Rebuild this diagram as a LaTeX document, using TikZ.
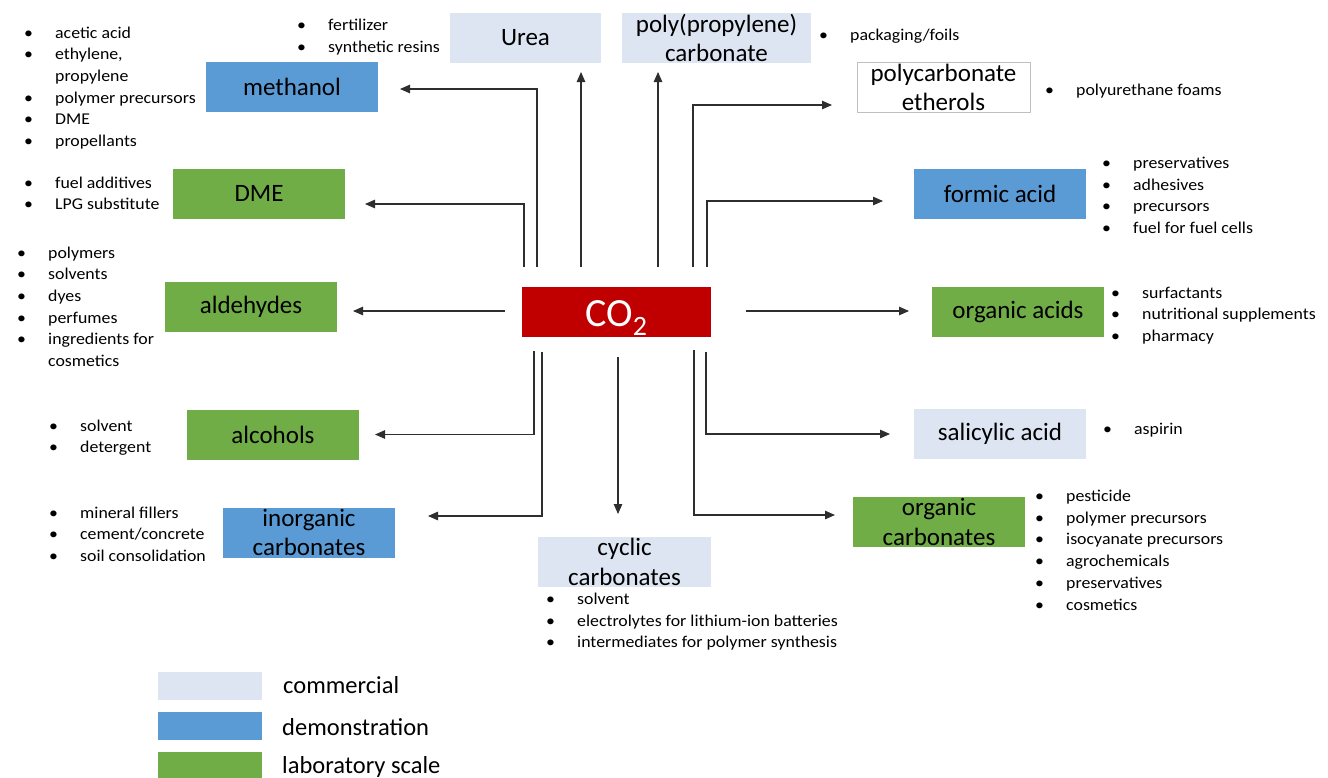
\documentclass[tikz,border=0pt]{standalone}
\usepackage{fontspec}
\setmainfont{Carlito}
\newfontfamily\bulfam[FakeStretch=1.08]{Carlito}
\usetikzlibrary{arrows.meta}
\definecolor{comm}{HTML}{DDE5F2}
\definecolor{demo}{HTML}{5B9BD5}
\definecolor{lab}{HTML}{70AD47}
\definecolor{cored}{HTML}{C00000}
\definecolor{linec}{HTML}{2E2E2E}
\newcommand\bulfont{\bulfam\fontsize{16.5}{21.7}\selectfont}
\newcommand\boxfont{\fontsize{25}{29.5}\selectfont}
\newcommand\blist[4]{\node[anchor=base west, inner sep=0, font=\bulfont] (#1) at (#2-31,#3) {\begin{tabular}[t]{@{}p{31pt}@{}l@{}}#4\end{tabular}};}
\newcommand\bu{\textbullet &}
\tikzset{
  pbox/.style={minimum height=50pt, inner sep=0, outer sep=0, align=center, font=\boxfont, text=black},
  pcomm/.style={pbox, fill=comm},
  pdemo/.style={pbox, fill=demo},
  plab/.style={pbox, fill=lab},
  arr/.style={draw=linec, line width=1.1pt, -{Triangle[length=10pt,width=8.5pt]}},
  legbox/.style={minimum width=104pt, minimum height=28pt, inner sep=0},
  legtext/.style={anchor=base west, inner sep=0, font=\fontsize{24.5}{28}\selectfont}
}
\begin{document}
\begin{tikzpicture}[x=1pt,y=-1pt]
\useasboundingbox (0,0) rectangle (1328,777);
% boxes
\node[pcomm, minimum width=151pt] (urea) at (525.5,38) {Urea};
\node[pcomm, minimum width=189pt] (ppc) at (716.5,38) {poly(propylene)\\carbonate};
\node[pbox, minimum width=173pt, draw=black!25, line width=1pt, fill=white] (pce) at (943.5,87.5) {polycarbonate\\etherols};
\node[pdemo, minimum width=172pt] (meth) at (292,87) {methanol};
\node[plab, minimum width=172pt] (dme) at (259,193.5) {DME};
\node[pdemo, minimum width=172pt] (formic) at (1000,193.5) {formic acid};
\node[plab, minimum width=172pt] (ald) at (251,306.5) {aldehydes};
\node[plab, minimum width=172pt] (alc) at (273,434.5) {alcohols};
\node[pdemo, minimum width=172pt] (inorg) at (309,532.5) {inorganic\\carbonates};
\node[pbox, minimum width=189pt, fill=cored, text=white, font=\fontsize{40}{44}\selectfont] (co2) at (616.5,312) {\raisebox{0pt}[28pt][0pt]{CO\textsubscript{2}}};
\node[pcomm, minimum width=173pt] (cyc) at (624.5,562) {cyclic\\carbonates};
\node[plab, minimum width=172pt] (orgac) at (1018,312) {organic acids};
\node[pcomm, minimum width=172pt] (sal) at (1000,434) {salicylic acid};
\node[plab, minimum width=172pt] (orgcarb) at (939,522) {organic\\carbonates};
% connector coordinates
\coordinate (sMeth) at (537,267); \coordinate (eMeth) at (400,89);
\coordinate (sDme) at (524,267); \coordinate (eDme) at (365,204);
\coordinate (sUrea) at (581,267); \coordinate (eUrea) at (581,72);
\coordinate (sPpc) at (658,267); \coordinate (ePpc) at (658,72);
\coordinate (sPce) at (693,267); \coordinate (ePce) at (832,105);
\coordinate (sForm) at (707,267); \coordinate (eForm) at (883,201);
\coordinate (sAld) at (505,311); \coordinate (eAld) at (353,311);
\coordinate (sOrgac) at (746,311); \coordinate (eOrgac) at (909,311);
\coordinate (sAlc) at (534,351); \coordinate (eAlc) at (375,434.5);
\coordinate (sInorg) at (542,352); \coordinate (eInorg) at (428,516);
\coordinate (sCyc) at (618,357); \coordinate (eCyc) at (618,514);
\coordinate (sOrgc) at (694,350); \coordinate (eOrgc) at (835,515);
\coordinate (sSal) at (706,352); \coordinate (eSal) at (890,434);
% connectors
\draw[arr] (sMeth) |- (eMeth);
\draw[arr] (sDme) |- (eDme);
\draw[arr] (sUrea) -- (eUrea);
\draw[arr] (sPpc) -- (ePpc);
\draw[arr] (sPce) |- (ePce);
\draw[arr] (sForm) |- (eForm);
\draw[arr] (sAld) -- (eAld);
\draw[arr] (sOrgac) -- (eOrgac);
\draw[arr] (sAlc) |- (eAlc);
\draw[arr] (sInorg) |- (eInorg);
\draw[arr] (sCyc) -- (eCyc);
\draw[arr] (sOrgc) |- (eOrgc);
\draw[arr] (sSal) |- (eSal);
% bullet lists
\blist{lMeth}{55}{38}{\bu acetic acid\\ \bu ethylene,\\ & propylene\\ \bu polymer precursors\\ \bu DME\\ \bu propellants}
\blist{lUrea}{328}{30.5}{\bu fertilizer\\ \bu synthetic resins}
\blist{lDme}{55}{188}{\bu fuel additives\\ \bu LPG substitute}
\blist{lPpc}{850}{40}{\bu packaging/foils}
\blist{lPce}{1076}{95}{\bu polyurethane foams}
\blist{lForm}{1133}{168.5}{\bu preservatives\\ \bu adhesives\\ \bu precursors\\ \bu fuel for fuel cells}
\blist{lAld}{48}{258}{\bu polymers\\ \bu solvents\\ \bu dyes\\ \bu perfumes\\ \bu ingredients for\\ & cosmetics}
\blist{lAlc}{80}{431}{\bu solvent\\ \bu detergent}
\blist{lInorg}{80}{518}{\bu mineral fillers\\ \bu cement/concrete\\ \bu soil consolidation}
\blist{lCyc}{577}{604.5}{\bu solvent\\ \bu electrolytes for lithium-ion batteries\\ \bu intermediates for polymer synthesis}
\blist{lOrgac}{1142}{298}{\bu surfactants\\ \bu nutritional supplements\\ \bu pharmacy}
\blist{lSal}{1134}{434}{\bu aspirin}
\blist{lOrgc}{1066}{501.5}{\bu pesticide\\ \bu polymer precursors\\ \bu isocyanate precursors\\ \bu agrochemicals\\ \bu preservatives\\ \bu cosmetics}
% legend
\node[legbox, fill=comm] (kComm) at (210,686) {};
\node[legbox, fill=demo] (kDemo) at (210,726) {};
\node[legbox, fill=lab] (kLab) at (210,766) {};
\node[legtext] (tComm) at (283,693) {commercial};
\node[legtext] (tDemo) at (282,735) {demonstration};
\node[legtext] (tLab) at (282,773) {laboratory scale};
\end{tikzpicture}
\end{document}
